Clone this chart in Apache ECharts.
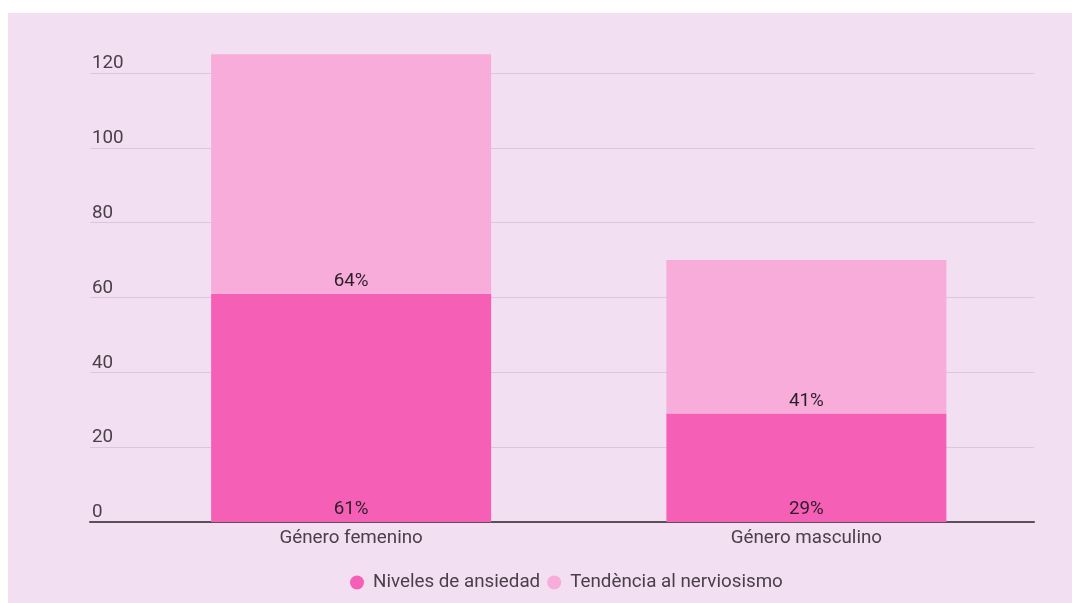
<!DOCTYPE html>
<html>
<head>
<meta charset="utf-8">
<script src="https://cdn.jsdelivr.net/npm/echarts@6/dist/echarts.min.js"></script>
<style>
html,body{margin:0;padding:0;background:#ffffff;width:1072px;height:603px;overflow:hidden;}
#c{position:absolute;left:8px;top:13px;width:1064px;height:590px;background:#f2dff2;}
</style>
</head>
<body>
<div id="c"></div>
<script>
const categories = ['Género femenino', 'Género masculino'];
const ansiedad = [61, 29];
const nerviosismo = [64, 41];
const seriesNames = ['Niveles de ansiedad', 'Tendència al nerviosismo'];
const yTicks = [0, 20, 40, 60, 80, 100, 120];

const chart = echarts.init(document.getElementById('c'), null, {renderer: 'canvas'});
const font = 'Roboto, "Noto Sans", sans-serif';
const FS = 18.8;
const lbl = {
  show: true, position: 'insideBottom', distance: 3,
  formatter: p => p.value + '%', color: '#2a1f28', fontSize: FS, fontFamily: font
};
chart.setOption({
  animation: false,
  textStyle: {fontFamily: font},
  grid: [
    {left: 82, right: 38, top: 60, bottom: 81},
    {left: 115.5, right: 38, top: 60, bottom: 81}
  ],
  xAxis: [
    {gridIndex: 0, type: 'value', min: 0, max: 1,
     axisLine: {show: true, onZero: false, lineStyle: {color: '#5a5058', width: 2}},
     axisTick: {show: false}, axisLabel: {show: false}, splitLine: {show: false}},
    {gridIndex: 1, type: 'category', data: categories,
     axisLine: {show: false}, axisTick: {show: false},
     axisLabel: {color: '#4a4048', fontSize: FS, margin: 7, fontFamily: font}}
  ],
  yAxis: [
    {gridIndex: 0, type: 'value', min: yTicks[0], max: yTicks[yTicks.length-1], interval: 20,
     axisLine: {show: false}, axisTick: {show: false},
     axisLabel: {inside: true, align: 'left', verticalAlign: 'bottom', margin: 2,
                 padding: [0, 0, 0, 0], color: '#4a4048', fontSize: FS, fontFamily: font},
     splitLine: {lineStyle: {color: '#dcc6dc', width: 1}}},
    {gridIndex: 1, type: 'value', min: yTicks[0], max: yTicks[yTicks.length-1], interval: 20,
     show: false, splitLine: {show: false}}
  ],
  legend: {
    data: seriesNames, top: 560, left: 342, padding: 0, icon: 'circle',
    itemWidth: 14, itemHeight: 14, itemGap: 7,
    textStyle: {color: '#4a4048', fontSize: FS, fontFamily: font, padding: [0, 0, 0, 4]}
  },
  series: [
    {name: seriesNames[0], type: 'bar', stack: 's', xAxisIndex: 1, yAxisIndex: 1,
     data: ansiedad, barWidth: 280, clip: false,
     itemStyle: {color: '#f65fb6'}, label: lbl},
    {name: seriesNames[1], type: 'bar', stack: 's', xAxisIndex: 1, yAxisIndex: 1,
     data: nerviosismo, barWidth: 280, clip: false,
     itemStyle: {color: '#f7acda'}, label: lbl}
  ]
});
</script>
</body>
</html>
